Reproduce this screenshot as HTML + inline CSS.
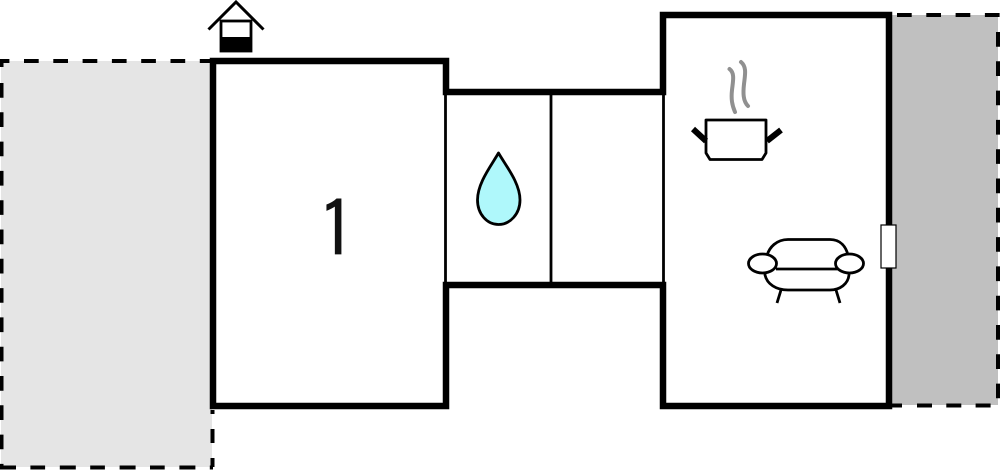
<!DOCTYPE html>
<html>
<head>
<meta charset="utf-8">
<style>
html,body{margin:0;padding:0;background:#fff;width:1000px;height:470px;overflow:hidden}
svg{display:block}
</style>
</head>
<body>
<svg width="1000" height="470" viewBox="0 0 1000 470" xmlns="http://www.w3.org/2000/svg">
<rect width="1000" height="470" fill="#fff"/>
<!-- outdoor areas -->
<rect x="1" y="61" width="211" height="406" fill="#e5e5e5"/>
<rect x="890" y="15" width="108" height="390" fill="#c0c0c0"/>
<!-- dashed borders -->
<g fill="none" stroke="#000" stroke-width="4">
<path d="M0 61H213" stroke-dasharray="14.700 14.600" stroke-dashoffset="5.300"/>
<path d="M1.500 59V67"/>
<path d="M1.500 83V468" stroke-dasharray="14.700 14.600"/>
<path d="M0 467.500H213" stroke-dasharray="16 14.400 14.700 14.700"/>
<path d="M212.500 467V410" stroke-dasharray="9 15 14 15 14"/>
<path d="M897 15H1000" stroke-dasharray="14.700 14.600"/>
<path d="M998 32V406" stroke-dasharray="14.700 14.600"/>
<path d="M890 405.500H1000" stroke-dasharray="12 15 15 14.300 15 14.300 15 14.300 15 20"/>
</g>
<!-- walls -->
<path d="M213 61H446V92H663V15H889V406H663V285H446V406H213Z" fill="#fff" stroke="#000" stroke-width="6.500" stroke-linejoin="miter"/>
<path d="M445.500 92V285M551 92V285M663.500 92V285" stroke="#000" stroke-width="2.800" fill="none"/>
<!-- door/window -->
<rect x="881" y="225" width="15" height="43" fill="#fff" stroke="#000" stroke-width="1.200"/>
<!-- well -->
<path d="M208.500 29.500L236 2L263.500 29.500" fill="none" stroke="#000" stroke-width="3"/>
<rect x="221" y="21" width="30" height="30" fill="#fff" stroke="#000" stroke-width="2.800"/>
<rect x="220" y="37" width="32" height="15" fill="#000"/>
<!-- label -->
<text x="337" y="258.500" font-family="'IPAGothic','NanumGothic',sans-serif" font-size="80" text-anchor="middle" fill="#111">1</text>
<!-- drop -->
<path d="M498.500 153C491 166 477.500 183 477.500 200C477.500 214 487 224.500 498.500 224.500C510 224.500 520 214 520 200C520 183 506 166 498.500 153Z" fill="#aff8fb" stroke="#000" stroke-width="2.800" stroke-linejoin="round"/>
<!-- pot -->
<path d="M729.500 69C735 73 733 81 732 90C731 99 732 105 735 112" fill="none" stroke="#909090" stroke-width="4" stroke-linecap="round"/>
<path d="M741 62C747 67 745 75 744 84C743 93 743 101 748 106" fill="none" stroke="#909090" stroke-width="4" stroke-linecap="round"/>
<path d="M706 120H766V153L762 159.500H710L706 153Z" fill="#fff" stroke="#000" stroke-width="2.800" stroke-linejoin="round"/>
<path d="M693 129L706 141" stroke="#000" stroke-width="6" fill="none"/>
<path d="M781 130L767 141" stroke="#000" stroke-width="6" fill="none"/>
<!-- sofa -->
<g fill="#fff" stroke="#000" stroke-width="2.800">
<path d="M766 260C768 246 778 239.500 788 239.500H830C840 239.500 847 246 849 260V275C848 284 840 290 830 290H788C776 290 767 284 765 275Z"/>
<path d="M776 269H838" fill="none"/>
<ellipse cx="762.500" cy="263.500" rx="14" ry="9.500"/>
<ellipse cx="849.500" cy="263.500" rx="14" ry="9.500"/>
<path d="M781 290L777 303M836 290L840 303" fill="none"/>
</g>
</svg>
</body>
</html>
